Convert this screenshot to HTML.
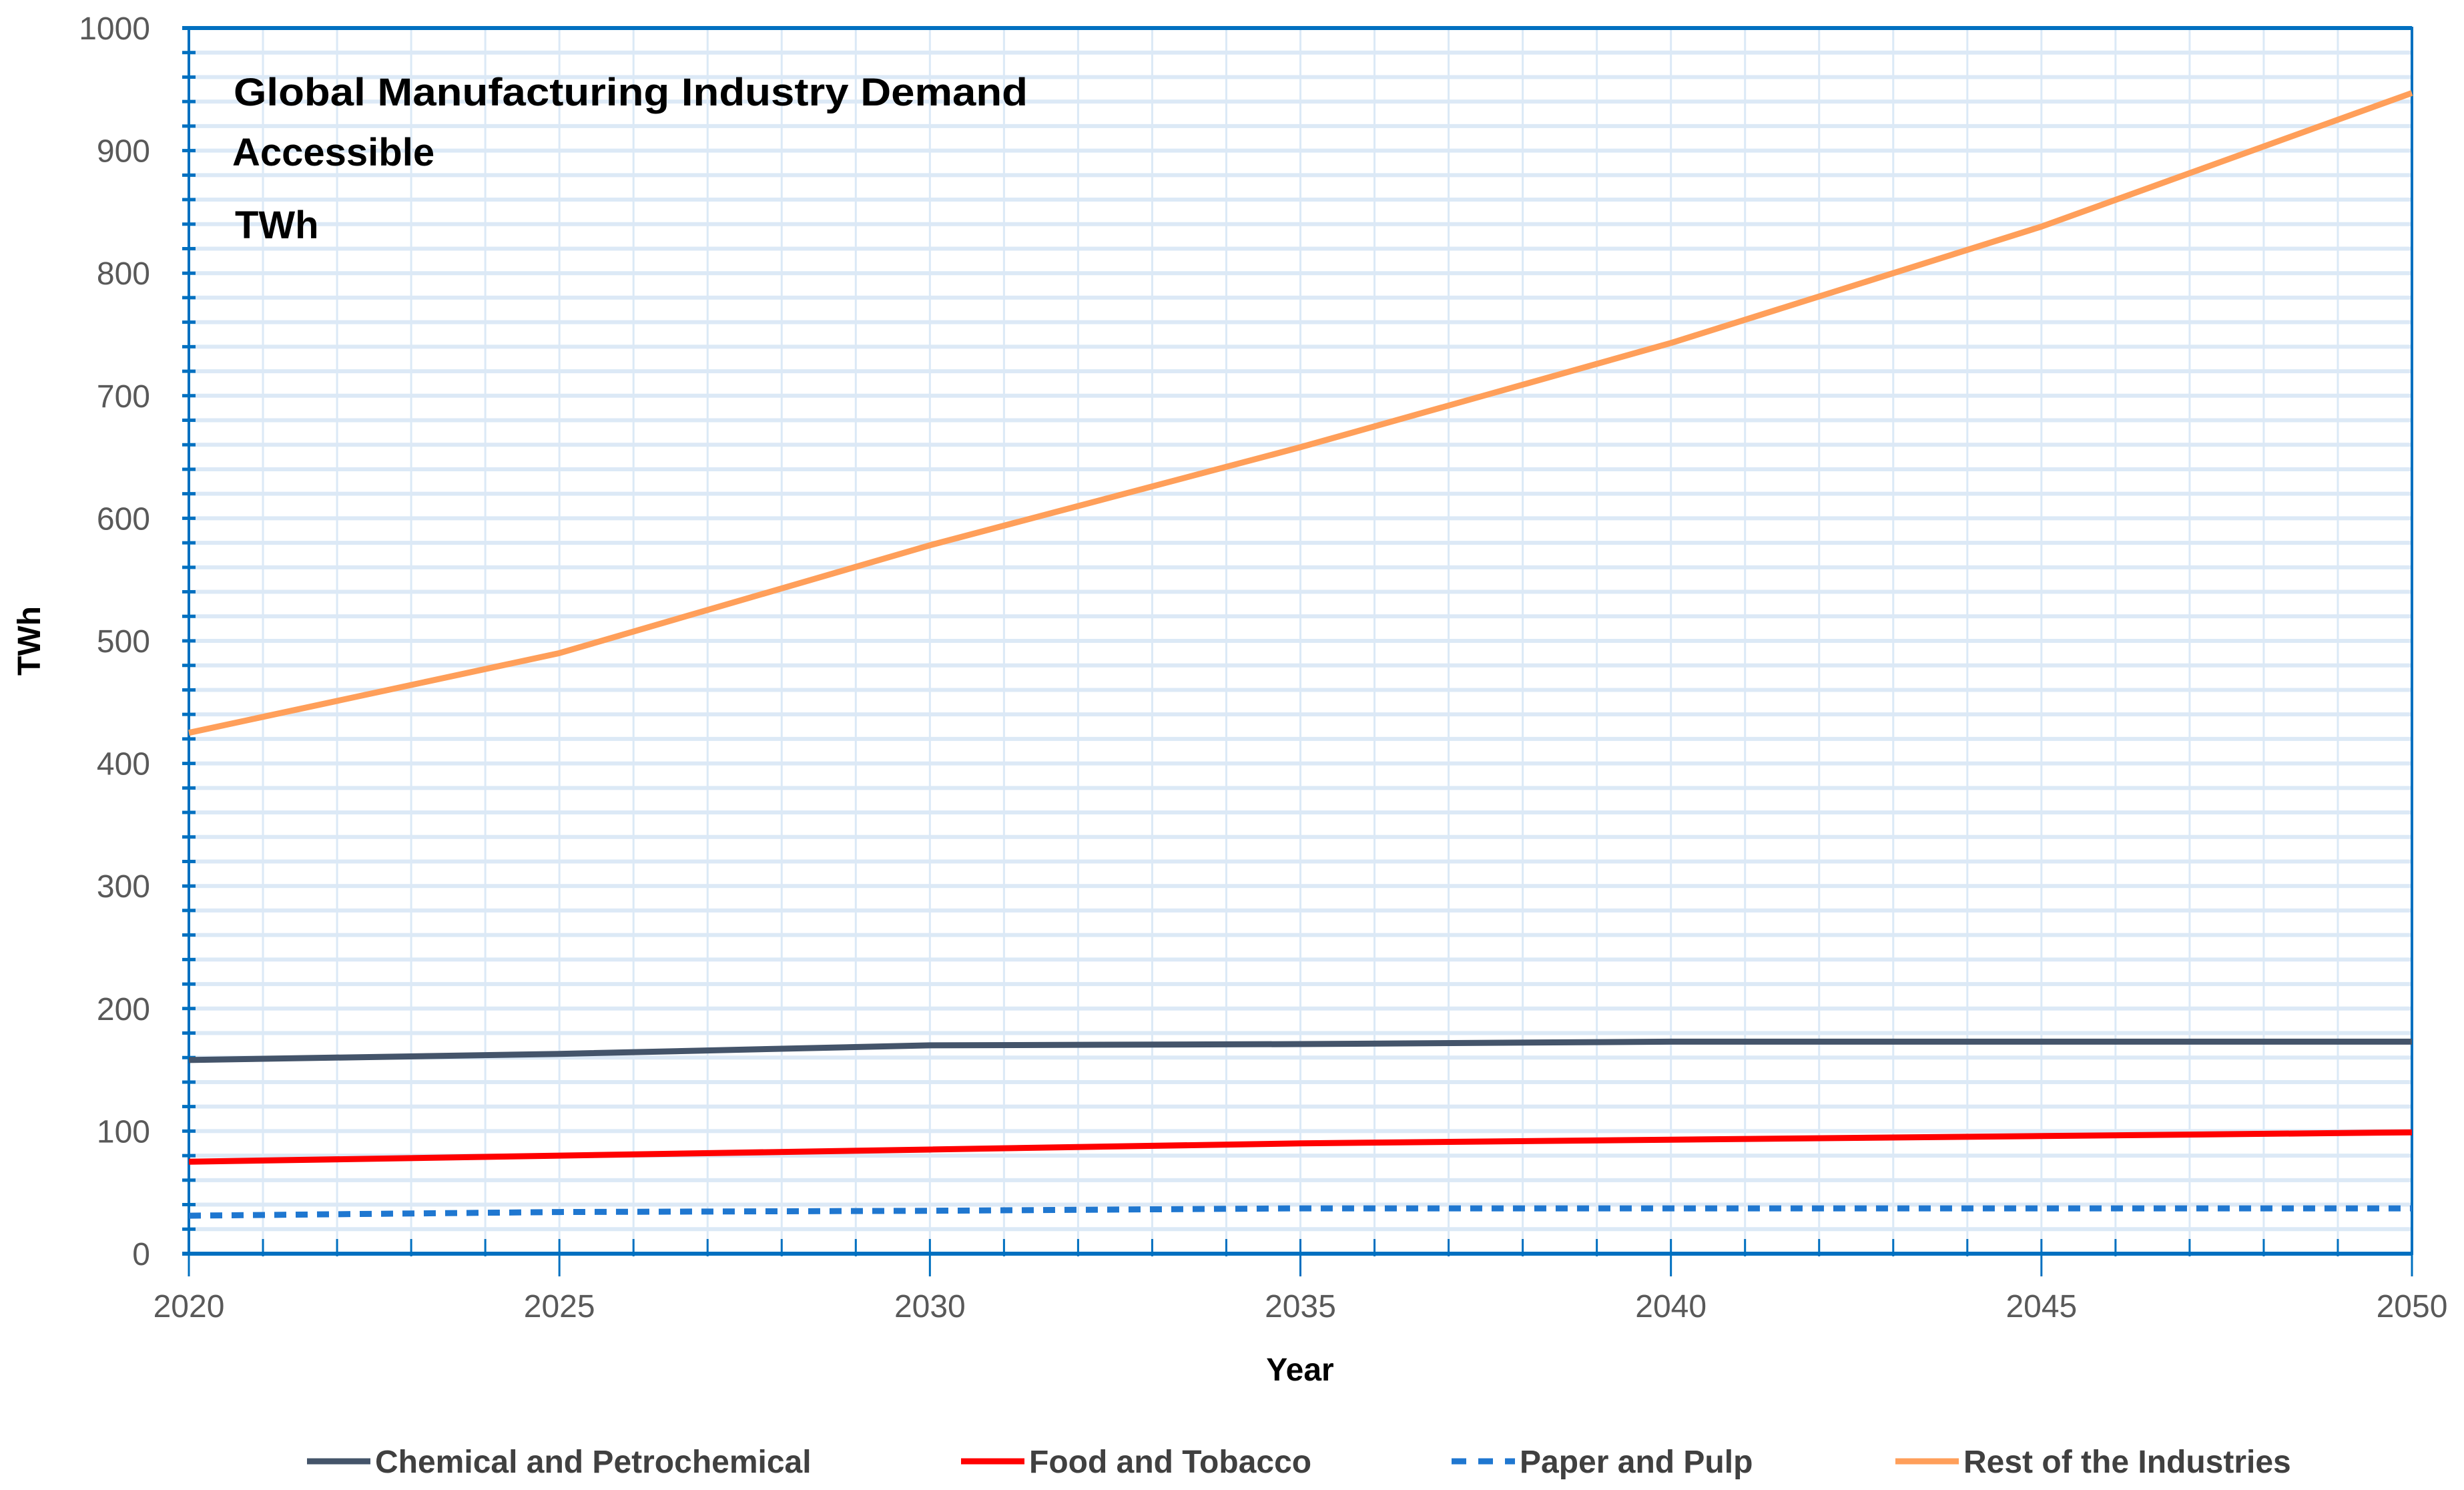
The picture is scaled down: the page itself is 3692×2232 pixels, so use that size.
<!DOCTYPE html>
<html><head><meta charset="utf-8"><style>
html,body{margin:0;padding:0;background:#fff;}
svg{display:block;font-family:"Liberation Sans",sans-serif;}
</style></head><body>
<svg id="chart" width="3692" height="2232" viewBox="0 0 3692 2232">
<g id="grid"></g>
<g id="axes"></g>
<g id="series"></g>
<g font-weight="bold" font-size="58" fill="#000">
<text x="350" y="158" textLength="1190" lengthAdjust="spacingAndGlyphs">Global Manufacturing Industry Demand</text>
<text x="348" y="248">Accessible</text>
<text x="352" y="357">TWh</text>
</g>
<text x="0" y="0" transform="translate(60,960) rotate(-90)" text-anchor="middle" font-size="48" font-weight="bold" fill="#000">TWh</text>
<text x="1948" y="2068" text-anchor="middle" font-size="48" font-weight="bold" fill="#000">Year</text>
<g id="legend"></g>
</svg>
<script>
const years = [2020, 2025, 2030, 2035, 2040, 2045, 2050];
const chemical = [158, 163, 170, 171, 173, 173, 173];
const food = [75, 80, 85, 90, 93, 96, 99];
const paper = [31, 34, 35, 37, 37, 37, 37];
const rest = [425, 490, 578, 658, 743, 838, 947];
const yTicks = [0, 100, 200, 300, 400, 500, 600, 700, 800, 900, 1000];
const xTicks = [2020, 2025, 2030, 2035, 2040, 2045, 2050];
const seriesNames = ["Chemical and Petrochemical", "Food and Tobacco", "Paper and Pulp", "Rest of the Industries"];

const NS = "http://www.w3.org/2000/svg";
const PL = 283, PR = 3614, PT = 42, PB = 1878;
const xS = v => PL + (v - 2020) / 30 * (PR - PL);
const yS = v => PB - v / 1000 * (PB - PT);
function mk(tag, attrs, parent) {
  const e = document.createElementNS(NS, tag);
  for (const k in attrs) e.setAttribute(k, attrs[k]);
  parent.appendChild(e);
  return e;
}
const gridG = document.getElementById("grid");
const axesG = document.getElementById("axes");
const seriesG = document.getElementById("series");
const legendG = document.getElementById("legend");

for (let yr = 2021; yr < 2050; yr++) {
  const l = mk("line", {x1: xS(yr), x2: xS(yr), y1: PT, y2: PB, stroke: "#dbe9f6", "stroke-width": 3}, gridG);
  
  
}
for (let v = 20; v < 1000; v += 20) {
  const l = mk("line", {x1: PL, x2: PR, y1: yS(v), y2: yS(v), stroke: "#dce9f6", "stroke-width": 6}, gridG);
  
  
  const t = mk("line", {x1: PL - 10, x2: PL + 10, y1: yS(v), y2: yS(v), stroke: "#0070c0", "stroke-width": 5}, axesG);
  
  
}
const fr = mk("rect", {x: PL, y: PT, width: PR - PL, height: PB - PT, fill: "none", stroke: "#0070c0", "stroke-width": 4}, axesG);


const topLine = mk("line", {x1: PL - 10, x2: PR, y1: PT, y2: PT, stroke: "#0070c0", "stroke-width": 6}, axesG);


const botLine = mk("line", {x1: PL - 10, x2: PR, y1: PB, y2: PB, stroke: "#0070c0", "stroke-width": 6}, axesG);


for (let yr = 2020; yr <= 2050; yr++) {
  const t = mk("line", {x1: xS(yr), x2: xS(yr), y1: PB - 22, y2: PB + (yr % 5 === 0 ? 30 : 0) + 4, stroke: "#0070c0", "stroke-width": 3}, axesG);
  
  
}
yTicks.forEach(v => {
  const t = mk("text", {x: PL - 58, y: yS(v) + 17, "text-anchor": "end", "font-size": 48, fill: "#595959"}, axesG);
  t.textContent = v;
  
  
});
xTicks.forEach(v => {
  const t = mk("text", {x: xS(v), y: PB + 95, "text-anchor": "middle", "font-size": 48, fill: "#595959"}, axesG);
  t.textContent = v;
  
  
});
const styles = [
  {data: chemical, color: "#44546a", dash: null},
  {data: food, color: "#ff0000", dash: null},
  {data: paper, color: "#1f77d0", dash: "18,14"},
  {data: rest, color: "#ff9f5a", dash: null}
];
styles.forEach((s, i) => {
  const pts = years.map((y, j) => xS(y) + "," + yS(s.data[j])).join(" ");
  const a = {points: pts, fill: "none", stroke: s.color, "stroke-width": 9, "stroke-linejoin": "round"};
  if (s.dash) a["stroke-dasharray"] = s.dash;
  const p = mk("polyline", a, seriesG);
  
  
});
const legX = [460, 1440, 2175, 2840];
seriesNames.forEach((n, i) => {
  const g = mk("g", {}, legendG);
  
  
  const a = {x1: legX[i], x2: legX[i] + 95, y1: 2189, y2: 2189, stroke: styles[i].color, "stroke-width": 9};
  if (styles[i].dash) a["stroke-dasharray"] = "22,18";
  mk("line", a, g);
  const t = mk("text", {x: legX[i] + 102, y: 2206, "font-size": 48, "font-weight": "bold", fill: "#404040"}, g);
  t.textContent = n;
});
</script>
</body></html>
